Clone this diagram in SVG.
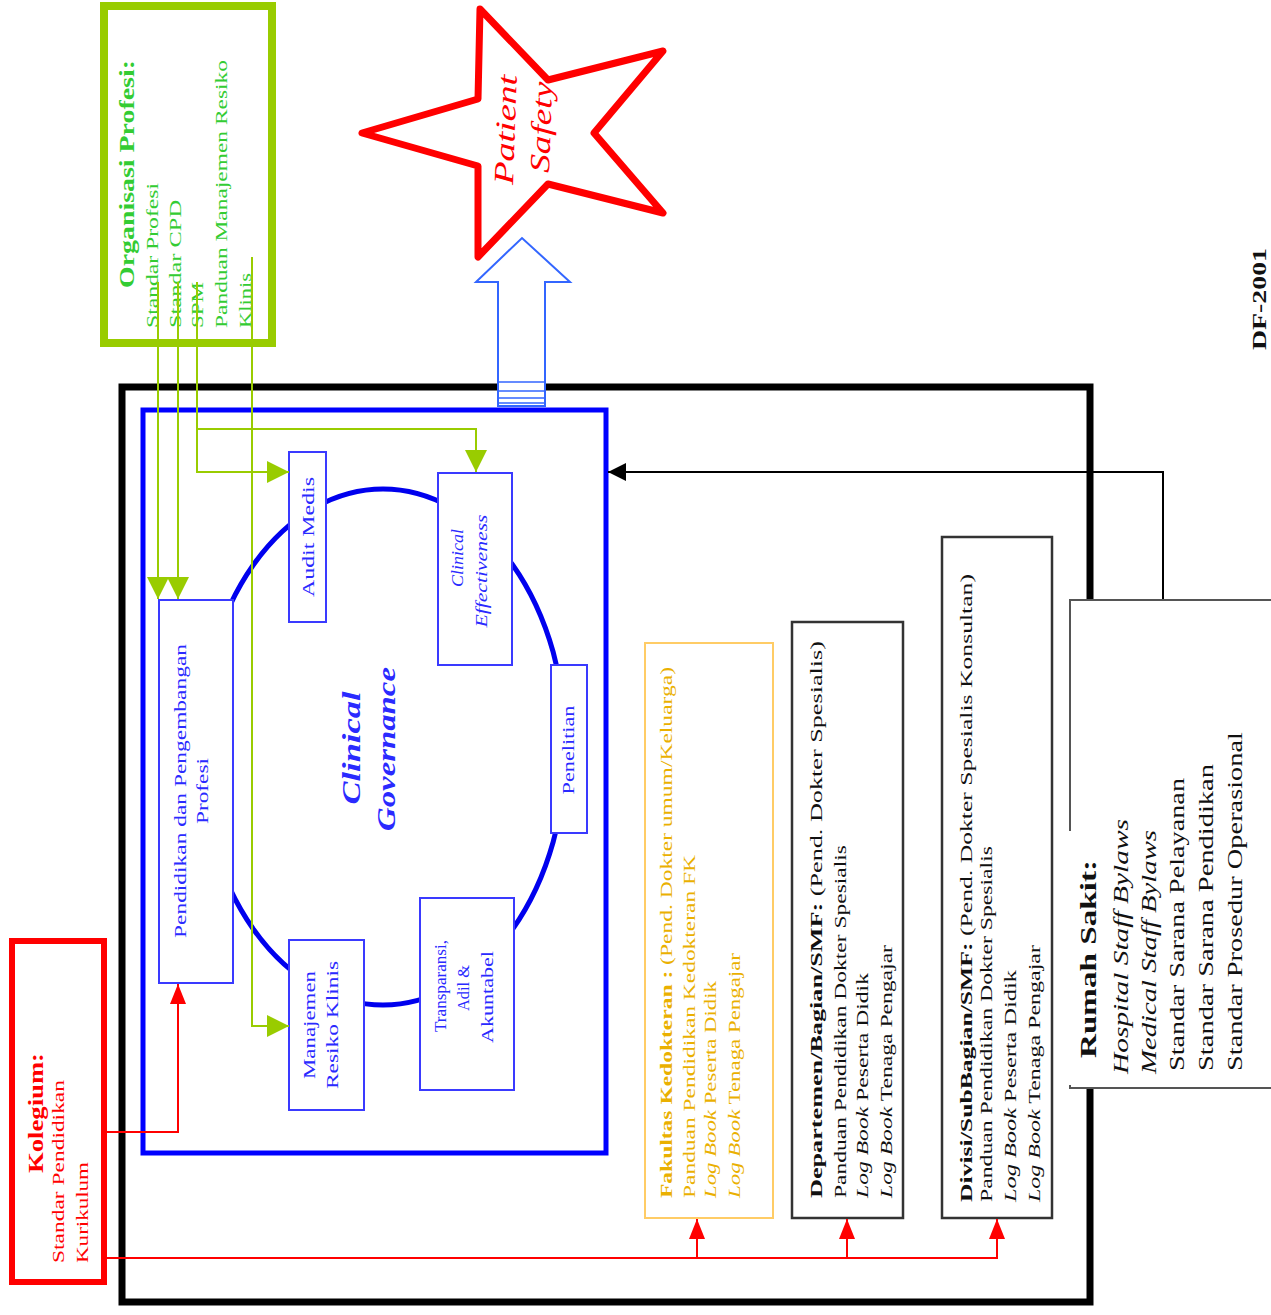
<svg xmlns="http://www.w3.org/2000/svg" width="1271" height="1315" viewBox="0 0 1271 1315">
<style>
.t{font-family:"Liberation Serif","Times New Roman",serif}
.b{font-weight:bold}
.i{font-style:italic}
.grn{fill:#33cc33}
.red{fill:#ff0000}
.blu{fill:#2a2aff}
.gold{fill:#eab000}
.blk{fill:#111}
.box{fill:#fff;stroke:#3a3aff;stroke-width:2}
.gl{fill:none;stroke:#99cc00;stroke-width:2}
.rl{fill:none;stroke:#ff0000;stroke-width:2}
.kl{fill:none;stroke:#000;stroke-width:2}
</style>
<defs>
<marker id="ag" viewBox="0 0 22 22" refX="22" refY="11" markerWidth="22" markerHeight="22" markerUnits="userSpaceOnUse" orient="auto"><path d="M0,0L22,11L0,22z" fill="#99cc00"/></marker>
<marker id="ar" viewBox="0 0 20 16" refX="20" refY="8" markerWidth="20" markerHeight="16" markerUnits="userSpaceOnUse" orient="auto"><path d="M0,0L20,8L0,16z" fill="#ff0000"/></marker>
<marker id="ak" viewBox="0 0 18 18" refX="18" refY="9" markerWidth="18" markerHeight="18" markerUnits="userSpaceOnUse" orient="auto"><path d="M0,0L18,9L0,18z" fill="#000"/></marker>
</defs>
<rect width="1271" height="1315" fill="#fff"/>

<g id="outer-box"><rect x="122" y="387" width="968" height="915" fill="none" stroke="#000" stroke-width="7"/></g>
<g id="clinical-governance-box">
<rect x="143" y="410" width="463" height="743" fill="none" stroke="#0000ff" stroke-width="5"/>
<ellipse cx="383" cy="747" rx="183" ry="258" fill="none" stroke="#0000ee" stroke-width="5"/>
<text class="t b i blu" font-size="26" transform="translate(360,748) rotate(-90)" text-anchor="middle" textLength="113" lengthAdjust="spacingAndGlyphs">Clinical</text>
<text class="t b i blu" font-size="26" transform="translate(395,749) rotate(-90)" text-anchor="middle" textLength="164" lengthAdjust="spacingAndGlyphs">Governance</text>
</g>

<g id="org-profesi">
<rect x="104" y="6" width="168" height="337" fill="#fff" stroke="#99cc00" stroke-width="8"/>
<text class="t b grn" font-size="22" transform="translate(134,288) rotate(-90)" textLength="228" lengthAdjust="spacingAndGlyphs">Organisasi Profesi:</text>
<text class="t grn" font-size="16" transform="translate(158,328) rotate(-90)" textLength="145" lengthAdjust="spacingAndGlyphs">Standar Profesi</text>
<text class="t grn" font-size="16" transform="translate(181,328) rotate(-90)" textLength="128" lengthAdjust="spacingAndGlyphs">Standar CPD</text>
<text class="t grn" font-size="16" transform="translate(203,328) rotate(-90)" textLength="46" lengthAdjust="spacingAndGlyphs">SPM</text>
<text class="t grn" font-size="16" transform="translate(227,328) rotate(-90)" textLength="268" lengthAdjust="spacingAndGlyphs">Panduan Manajemen Resiko</text>
<text class="t grn" font-size="16" transform="translate(251,328) rotate(-90)" textLength="55" lengthAdjust="spacingAndGlyphs">Klinis</text>
</g>

<g id="kolegium">
<rect x="12" y="941" width="92" height="341" fill="#fff" stroke="#ff0000" stroke-width="6"/>
<text class="t b red" font-size="22" transform="translate(43,1173) rotate(-90)" textLength="120" lengthAdjust="spacingAndGlyphs">Kolegium:</text>
<text class="t red" font-size="16" transform="translate(64,1263) rotate(-90)" textLength="183" lengthAdjust="spacingAndGlyphs">Standar Pendidikan</text>
<text class="t red" font-size="16" transform="translate(88,1263) rotate(-90)" textLength="101" lengthAdjust="spacingAndGlyphs">Kurikulum</text>
</g>

<g id="pendidikan">
<rect class="box" x="159" y="600" width="74" height="383"/>
<text class="t blu" font-size="16" transform="translate(186,791) rotate(-90)" text-anchor="middle" textLength="294" lengthAdjust="spacingAndGlyphs">Pendidikan dan Pengembangan</text>
<text class="t blu" font-size="16" transform="translate(208,791) rotate(-90)" text-anchor="middle" textLength="66" lengthAdjust="spacingAndGlyphs">Profesi</text>
</g>
<g id="audit-medis">
<rect class="box" x="289" y="452" width="37" height="170"/>
<text class="t blu" font-size="16" transform="translate(314,537) rotate(-90)" text-anchor="middle" textLength="120" lengthAdjust="spacingAndGlyphs">Audit Medis</text>
</g>
<g id="clinical-effectiveness">
<rect class="box" x="438" y="473" width="74" height="192"/>
<text class="t i blu" font-size="16" transform="translate(463,558) rotate(-90)" text-anchor="middle" textLength="58" lengthAdjust="spacingAndGlyphs">Clinical</text>
<text class="t i blu" font-size="16" transform="translate(487,571) rotate(-90)" text-anchor="middle" textLength="113" lengthAdjust="spacingAndGlyphs">Effectiveness</text>
</g>
<g id="penelitian">
<rect class="box" x="551" y="665" width="36" height="168"/>
<text class="t blu" font-size="16" transform="translate(574,750) rotate(-90)" text-anchor="middle" textLength="89" lengthAdjust="spacingAndGlyphs">Penelitian</text>
</g>
<g id="transparansi">
<rect class="box" x="420" y="898" width="94" height="192"/>
<text class="t blu" font-size="16" transform="translate(446,986) rotate(-90)" text-anchor="middle" textLength="92" lengthAdjust="spacingAndGlyphs">Transparansi,</text>
<text class="t blu" font-size="16" transform="translate(469,988) rotate(-90)" text-anchor="middle" textLength="46" lengthAdjust="spacingAndGlyphs">Adil &amp;</text>
<text class="t blu" font-size="16" transform="translate(493,997) rotate(-90)" text-anchor="middle" textLength="92" lengthAdjust="spacingAndGlyphs">Akuntabel</text>
</g>
<g id="manajemen-resiko">
<rect class="box" x="289" y="940" width="75" height="170"/>
<text class="t blu" font-size="16" transform="translate(315,1025) rotate(-90)" text-anchor="middle" textLength="108" lengthAdjust="spacingAndGlyphs">Manajemen</text>
<text class="t blu" font-size="16" transform="translate(338,1025) rotate(-90)" text-anchor="middle" textLength="128" lengthAdjust="spacingAndGlyphs">Resiko Klinis</text>
</g>

<g id="fakultas">
<rect x="645" y="643" width="128" height="575" fill="#fff" stroke="#ffcc66" stroke-width="2"/>
<text class="t gold" font-size="16" transform="translate(672,1198) rotate(-90)" textLength="531" lengthAdjust="spacingAndGlyphs"><tspan class="b">Fakultas Kedokteran :</tspan> (Pend. Dokter umum/Keluarga)</text>
<text class="t gold" font-size="16" transform="translate(695,1198) rotate(-90)" textLength="343" lengthAdjust="spacingAndGlyphs">Panduan Pendidikan Kedokteran FK</text>
<text class="t gold" font-size="16" transform="translate(716,1198) rotate(-90)" textLength="217" lengthAdjust="spacingAndGlyphs"><tspan class="i">Log Book</tspan> Peserta Didik</text>
<text class="t gold" font-size="16" transform="translate(740,1198) rotate(-90)" textLength="245" lengthAdjust="spacingAndGlyphs"><tspan class="i">Log Book</tspan> Tenaga Pengajar</text>
</g>
<g id="departemen">
<rect x="792" y="622" width="111" height="596" fill="#fff" stroke="#333" stroke-width="2.5"/>
<text class="t blk" font-size="16" transform="translate(822,1198) rotate(-90)" textLength="557" lengthAdjust="spacingAndGlyphs"><tspan class="b">Departemen/Bagian/SMF:</tspan> (Pend. Dokter Spesialis)</text>
<text class="t blk" font-size="16" transform="translate(846,1198) rotate(-90)" textLength="353" lengthAdjust="spacingAndGlyphs">Panduan Pendidikan Dokter Spesialis</text>
<text class="t blk" font-size="16" transform="translate(868,1198) rotate(-90)" textLength="225" lengthAdjust="spacingAndGlyphs"><tspan class="i">Log Book</tspan> Peserta Didik</text>
<text class="t blk" font-size="16" transform="translate(892,1198) rotate(-90)" textLength="253" lengthAdjust="spacingAndGlyphs"><tspan class="i">Log Book</tspan> Tenaga Pengajar</text>
</g>
<g id="divisi">
<rect x="942" y="537" width="110" height="681" fill="#fff" stroke="#333" stroke-width="2.5"/>
<text class="t blk" font-size="16" transform="translate(972,1202) rotate(-90)" textLength="628" lengthAdjust="spacingAndGlyphs"><tspan class="b">Divisi/SubBagian/SMF:</tspan> (Pend. Dokter Spesialis Konsultan)</text>
<text class="t blk" font-size="16" transform="translate(992,1202) rotate(-90)" textLength="356" lengthAdjust="spacingAndGlyphs">Panduan Pendidikan Dokter Spesialis</text>
<text class="t blk" font-size="16" transform="translate(1016,1202) rotate(-90)" textLength="232" lengthAdjust="spacingAndGlyphs"><tspan class="i">Log Book</tspan> Peserta Didik</text>
<text class="t blk" font-size="16" transform="translate(1040,1202) rotate(-90)" textLength="257" lengthAdjust="spacingAndGlyphs"><tspan class="i">Log Book</tspan> Tenaga Pengajar</text>
</g>

<g id="connectors">
<path class="gl" d="M158 282V599" marker-end="url(#ag)"/>
<path class="gl" d="M178 282V599" marker-end="url(#ag)"/>
<path class="gl" d="M197 282V472H289" marker-end="url(#ag)"/>
<path class="gl" d="M197 429H476V472" marker-end="url(#ag)"/>
<path class="gl" d="M252 257V1026H289" marker-end="url(#ag)"/>
<path class="rl" d="M105 1132H178V984" marker-end="url(#ar)"/>
<path class="rl" d="M105 1258H997V1219" marker-end="url(#ar)"/>
<path class="rl" d="M697 1258V1219" marker-end="url(#ar)"/>
<path class="rl" d="M847 1258V1219" marker-end="url(#ar)"/>
<path class="kl" d="M1163 601V472H608" marker-end="url(#ak)"/>
<g id="arrow-to-safety">
<polygon points="498,406 498,282 476,282 522,238 570,282 545,282 545,406" fill="#fff" stroke="#3366ff" stroke-width="2"/>
<path d="M498 382H545M498 391H545M498 398H545M498 403H545" stroke="#3366ff" stroke-width="1.5"/>
</g>
</g>

<g id="patient-safety">
<polygon points="480,9 478,99 548,80 663,51 594,133 663,213 548,184 478,166 478,257 478,166 362,133" fill="none" stroke="none"/>
<polygon points="480,9 548,80 663,51 594,133 663,213 548,184 478,257 478,166 362,133 478,99" fill="#fff" stroke="#ff0000" stroke-width="7" stroke-linejoin="round"/>
<text class="t i red" font-size="28" transform="translate(513,185) rotate(-88)" textLength="110" lengthAdjust="spacingAndGlyphs">Patient</text>
<text class="t i red" font-size="28" transform="translate(549,173) rotate(-88)" textLength="91" lengthAdjust="spacingAndGlyphs">Safety</text>
</g>

<g id="rumah-sakit">
<rect x="1070" y="600" width="210" height="488" fill="#fff"/>
<path d="M1275 600H1070V831M1070 1085V1088H1275" fill="none" stroke="#555" stroke-width="2"/>
<text class="t b blk" font-size="24" transform="translate(1096,1058) rotate(-90)" textLength="198" lengthAdjust="spacingAndGlyphs">Rumah Sakit:</text>
<text class="t i blk" font-size="20" transform="translate(1128,1074) rotate(-90)" textLength="255" lengthAdjust="spacingAndGlyphs">Hospital Staff Bylaws</text>
<text class="t i blk" font-size="20" transform="translate(1156,1074) rotate(-90)" textLength="244" lengthAdjust="spacingAndGlyphs">Medical Staff Bylaws</text>
<text class="t blk" font-size="20" transform="translate(1184,1071) rotate(-90)" textLength="293" lengthAdjust="spacingAndGlyphs">Standar Sarana Pelayanan</text>
<text class="t blk" font-size="20" transform="translate(1213,1071) rotate(-90)" textLength="307" lengthAdjust="spacingAndGlyphs">Standar Sarana Pendidikan</text>
<text class="t blk" font-size="20" transform="translate(1242,1071) rotate(-90)" textLength="339" lengthAdjust="spacingAndGlyphs">Standar Prosedur Operasional</text>
</g>

<g id="df-2001">
<text class="t b blk" font-size="18" transform="translate(1266,350) rotate(-90)" textLength="102" lengthAdjust="spacingAndGlyphs">DF-2001</text>
</g>
</svg>
